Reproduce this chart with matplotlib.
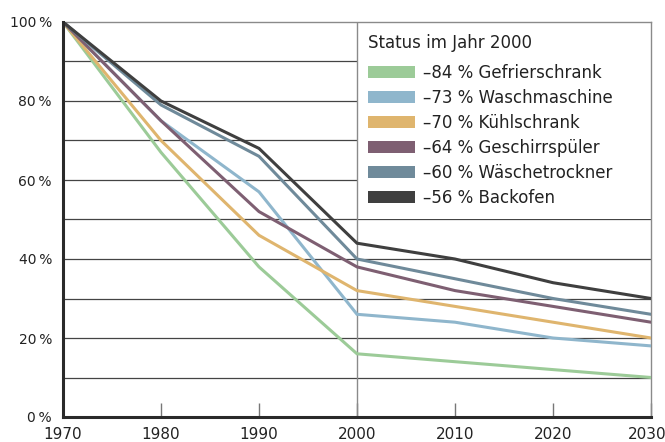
"""
Rückgang des Energieverbrauchs von Haushaltsgeräten, 1970 = 100 %.
"""

import matplotlib
matplotlib.use("Agg")
import matplotlib.pyplot as plt
from matplotlib.patches import Patch, Rectangle
from matplotlib.transforms import ScaledTranslation

years = [1970, 1980, 1990, 2000, 2010, 2020, 2030]

gefrierschrank = [100, 67, 38, 16, 14, 12, 10]
waschmaschine = [100, 75, 57, 26, 24, 20, 18]
kuehlschrank = [100, 70, 46, 32, 28, 24, 20]
geschirrspueler = [100, 75, 52, 38, 32, 28, 24]
waeschetrockner = [100, 79, 66, 40, 35, 30, 26]
backofen = [100, 80, 68, 44, 40, 34, 30]

labels = [
    "–84 % Gefrierschrank",
    "–73 % Waschmaschine",
    "–70 % Kühlschrank",
    "–64 % Geschirrspüler",
    "–60 % Wäschetrockner",
    "–56 % Backofen",
]
series = [gefrierschrank, waschmaschine, kuehlschrank,
          geschirrspueler, waeschetrockner, backofen]
colors = ["#9ccb98", "#8fb6cc", "#dfb56e", "#7e5f72", "#6f8a9a", "#3f3f3f"]

y_ticks = [0, 20, 40, 60, 80, 100]
x_ticks = [1970, 1980, 1990, 2000, 2010, 2020, 2030]

fig = plt.figure(figsize=(6.65, 4.42), dpi=100)
ax = fig.add_axes([63 / 665, 25 / 442, 588 / 665, 395 / 442])

# Gitterlinien alle 10 %
for v in range(10, 100, 10):
    ax.axhline(v, color="#444444", lw=0.9, zorder=1)
ax.axvline(2000, color="#8a8a8a", lw=1.0, zorder=2)

# weisser Kasten hinter der Legende
ax.add_patch(Rectangle((2000, 50.2), 30, 49.8, facecolor="white",
                       edgecolor="none", zorder=1.5))

for vals, col in zip(series, colors):
    ax.plot(years, vals, color=col, lw=2.2, solid_joinstyle="miter", zorder=3)

ax.set_xlim(1970, 2030)
ax.set_ylim(0, 100)
ax.set_xticks(x_ticks)
ax.set_yticks(y_ticks)
ax.set_yticklabels([f"{v}\u2009%" for v in y_ticks])
ax.tick_params(axis="x", direction="in", length=10, width=1, color="#777777",
               pad=7, labelsize=11, labelcolor="#222222")
ax.tick_params(axis="y", length=0, pad=8, labelsize=10, labelcolor="#222222")

# letzte Jahreszahl etwas nach links, damit sie nicht abgeschnitten wird
last = ax.get_xticklabels()[-1]
last.set_transform(last.get_transform() + ScaledTranslation(-4 / 100, 0, fig.dpi_scale_trans))

for side in ("left", "bottom"):
    ax.spines[side].set_linewidth(2.2)
    ax.spines[side].set_color("#2a2a2a")
    ax.spines[side].set_zorder(4)
for side in ("right", "top"):
    ax.spines[side].set_linewidth(1.0)
    ax.spines[side].set_color("#8a8a8a")

# Legende mit eigenem Titel
ax.text(0.5187, 0.9468, "Status im Jahr 2000", transform=ax.transAxes,
        ha="left", va="center", fontsize=12, color="#222222")
handles = [Patch(facecolor=c, edgecolor="none") for c in colors]
leg = ax.legend(handles, labels, loc="upper left",
                bbox_to_anchor=(0.5187, 0.8936), frameon=False, fontsize=12,
                borderpad=0, borderaxespad=0, handlelength=2.85,
                handleheight=0.7, handletextpad=0.45, labelspacing=0.414)
for t in leg.get_texts():
    t.set_color("#222222")

fig.savefig("out.png", dpi=100)
plt.close(fig)
